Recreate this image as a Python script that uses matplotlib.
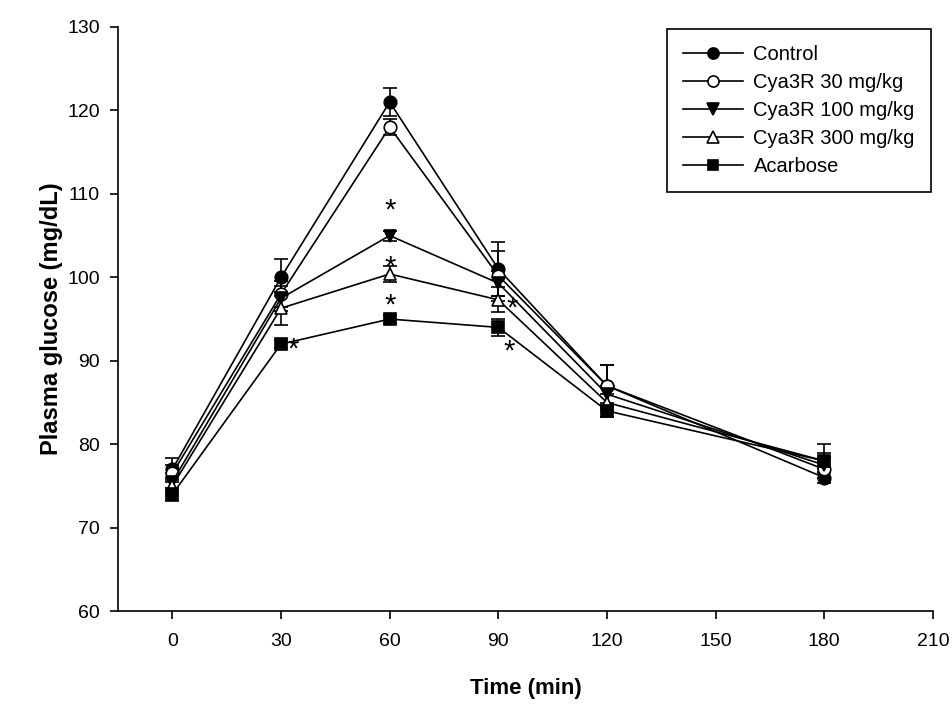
import numpy as np
import matplotlib
matplotlib.use("Agg")
import matplotlib.pyplot as plt
from matplotlib.lines import Line2D

plt.rcParams["font.family"] = ["Liberation Sans", "DejaVu Sans"]

# ── OGTT data: plasma glucose (mg/dL), mean ± SEM ──
time_min = [0, 30, 60, 90, 120, 180]

control    = [77.0, 100.0, 121.0, 101.0, 87.0, 76.0]
cya_30     = [76.5, 98.0, 118.0, 100.2, 87.0, 77.0]
cya_100    = [75.5, 97.5, 105.0, 99.3, 86.0, 77.5]
cya_300    = [75.0, 96.3, 100.4, 97.3, 85.0, 78.0]
acarbose   = [74.0, 92.0, 95.0, 94.0, 84.0, 78.0]

control_se  = [1.3, 2.2, 1.7, 3.2, 2.5, 0.7]
cya_30_se   = [1.0, 1.5, 1.0, 3.0, 2.5, 1.0]
cya_100_se  = [1.0, 1.5, 0.6, 1.5, 1.0, 1.0]
cya_300_se  = [1.0, 2.0, 1.0, 1.5, 1.0, 2.0]
acarbose_se = [0.8, 0.5, 0.5, 1.0, 0.7, 1.0]

labels = ["Control", "Cya3R 30 mg/kg", "Cya3R 100 mg/kg", "Cya3R 300 mg/kg", "Acarbose"]

x_ticks = [0, 30, 60, 90, 120, 150, 180, 210]
y_ticks = [60, 70, 80, 90, 100, 110, 120, 130]

# significant points vs control: (series index, time index)
sig_points = [(2, 2), (3, 2), (4, 2), (4, 1), (3, 3), (4, 3)]

# ── styles ──
series = [control, cya_30, cya_100, cya_300, acarbose]
errors = [control_se, cya_30_se, cya_100_se, cya_300_se, acarbose_se]
markers = ["o", "o", "v", "^", "s"]
faces = ["black", "white", "black", "white", "black"]
sizes = [9, 9, 9, 9, 8]
# asterisk offsets in points (dx, dy)
sig_offsets = {(2, 2): (0, 20), (3, 2): (0, 7), (4, 2): (0, 12),
               (4, 1): (9, -2), (3, 3): (10, -4), (4, 3): (8, -15)}

fig = plt.figure(figsize=(9.52, 7.09), dpi=100)
ax = fig.add_axes([0.124, 0.138, 0.856, 0.824])

handles = []
for vals, se, mk, fc, ms, lab in zip(series, errors, markers, faces, sizes, labels):
    ax.errorbar(time_min, vals, yerr=se, color="black", ecolor="black",
                marker=mk, markerfacecolor=fc, markeredgecolor="black",
                markersize=ms, markeredgewidth=1.2, linewidth=1.2,
                elinewidth=1.2, capsize=5, capthick=1.2)
    handles.append(Line2D([], [], color="black", linewidth=1.2, marker=mk,
                          markerfacecolor=fc, markeredgecolor="black",
                          markersize=ms - 1, markeredgewidth=1.2, label=lab))

for si, ti in sig_points:
    dx, dy = sig_offsets[(si, ti)]
    ax.annotate("*", xy=(time_min[ti], series[si][ti]), xytext=(dx, dy),
                textcoords="offset points", ha="center", va="center_baseline",
                fontsize=21, color="black")

ax.set_xlim(-15, 210)
ax.set_ylim(60, 130)
ax.set_xticks(x_ticks)
ax.set_yticks(y_ticks)
ax.tick_params(direction="out", length=6, width=1.2, labelsize=14, pad=10)
ax.tick_params(axis="y", pad=7)
for side in ["top", "right"]:
    ax.spines[side].set_visible(False)
for side in ["left", "bottom"]:
    ax.spines[side].set_linewidth(1.2)

ax.set_xlabel("Time (min)", fontsize=16, fontweight="bold", labelpad=20)
ax.set_ylabel("Plasma glucose (mg/dL)", fontsize=17, fontweight="bold", labelpad=3)

leg = ax.legend(handles=handles, loc="upper right", bbox_to_anchor=(1.0, 1.0),
                fontsize=14.5, handlelength=3.0, handletextpad=0.5, labelspacing=0.45,
                borderpad=0.8, borderaxespad=0.1, fancybox=False, framealpha=1,
                edgecolor="black")
leg.get_frame().set_linewidth(1.2)

fig.savefig("out.png", dpi=100)
